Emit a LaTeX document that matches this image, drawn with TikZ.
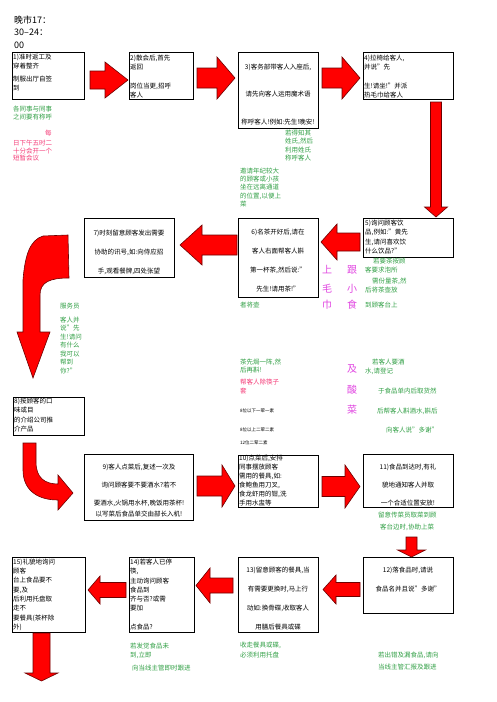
\documentclass[tikz,border=0pt]{standalone}
\usepackage{fontspec}
\setmainfont{Noto Sans CJK SC}
\definecolor{grn}{RGB}{50,160,70}
\definecolor{rose}{RGB}{245,60,120}
\definecolor{mag}{RGB}{225,70,225}
\definecolor{darkred}{RGB}{110,0,0}
\newcommand\BlkArrH[6]{\draw[barrow] (#1,#4-#5) -- (#2,#4-#5) -- (#2,#4-#6) -- (#3,#4) -- (#2,#4+#6) -- (#2,#4+#5) -- (#1,#4+#5) -- cycle;}
\newcommand\BlkArrV[6]{\draw[barrow] (#4-#5,#1) -- (#4-#5,#2) -- (#4-#6,#2) -- (#4,#3) -- (#4+#6,#2) -- (#4+#5,#2) -- (#4+#5,#1) -- cycle;}
\begin{document}
\begin{tikzpicture}[x=1pt,y=-1pt,
  boxst/.style={draw=black, line width=0.9pt, anchor=north west, inner sep=0, outer sep=0},
  txt/.style={inner sep=0, anchor=north west, align=left, font=\fontsize{6.5}{9}\selectfont},
  ctxt/.style={inner sep=0, anchor=north, align=center, font=\fontsize{6.5}{19}\selectfont},
  gtxt/.style={txt, text=grn},
  barrow/.style={fill=red, draw=darkred, line width=0.6pt, line join=miter},
  pk/.style={inner sep=0, text=mag, font=\fontsize{10}{10}\selectfont}
]
\useasboundingbox (0,0) rectangle (496,702);
\fill[white] (0,0) rectangle (496,702);

% title
\node[inner sep=0, anchor=north west, align=left, font=\fontsize{9}{12.5}\selectfont] (title) at (14,15.5) {晚市17：\\30--24：\\00};

% boxes
\node[boxst, minimum width=72pt, minimum height=47pt] (b1) at (12,52) {};
\node[boxst, minimum width=64pt, minimum height=47pt] (b2) at (129,52) {};
\node[boxst, minimum width=80pt, minimum height=76pt] (b3) at (238,52) {};
\node[boxst, minimum width=90pt, minimum height=47pt] (b4) at (363,52) {};
\node[boxst, minimum width=90pt, minimum height=39pt] (b5) at (363,218) {};
\node[boxst, minimum width=80pt, minimum height=79pt] (b6) at (238,218) {};
\node[boxst, minimum width=90pt, minimum height=59pt] (b7) at (84,218) {};
\node[boxst, minimum width=71pt, minimum height=38pt] (b8) at (13,397) {};
\node[boxst, minimum width=109pt, minimum height=66pt] (b9) at (84,454) {};
\node[boxst, minimum width=80pt, minimum height=52pt] (b10) at (238,455) {};
\node[boxst, minimum width=90pt, minimum height=53pt] (b11) at (363,454) {};
\node[boxst, minimum width=90pt, minimum height=56pt] (b12) at (363,557) {};
\node[boxst, minimum width=80pt, minimum height=75pt] (b13) at (238,557) {};
\node[boxst, minimum width=65pt, minimum height=75pt] (b14) at (129,557) {};
\node[boxst, minimum width=73pt, minimum height=75pt] (b15) at (12,557) {};

% block arrows
\BlkArrH{90}{105}{128}{80}{9}{18}
\BlkArrH{197}{217}{235}{78}{10}{21}
\BlkArrH{322}{342}{360}{78}{10}{21}
\BlkArrV{102}{207}{217}{436}{5.5}{11.5}
\BlkArrH{360}{337}{321}{242}{9}{18}
\BlkArrH{237}{202}{180}{245}{10}{20}
\draw[barrow] (68,235) -- (69,278) .. controls (50,278) and (40,282) .. (40,295) -- (40,332) -- (50,332) -- (33,378) -- (17,332) -- (23,332) -- (23,280) .. controls (25,255) and (30,240) .. (43,236) -- cycle;
\draw[barrow] (23,443) -- (36,443) -- (36,462) .. controls (36,478) and (45,484) .. (58,484) -- (58,475) -- (73,493) -- (58,510) -- (58,500) .. controls (35,500) and (23,488) .. (23,470) -- cycle;
\BlkArrH{197}{222}{235}{486}{10}{21}
\BlkArrH{322}{345}{360}{486.5}{10}{21.5}
\BlkArrV{537}{550}{557}{411.5}{5.5}{14}
\BlkArrH{360}{336}{323}{589.5}{7}{14.5}
\BlkArrH{233}{210}{196}{585.5}{7.5}{17.5}
\BlkArrH{126}{100}{88}{590}{7.5}{14}
\BlkArrV{633}{673}{681}{41.5}{8.5}{16.5}

% box texts
\node[txt] (t1) at (13,57-3.3) {1)准时返工及\\穿着整齐\\[4pt]制服出厅自签\\到};
\node[txt] (t2) at (130,58-3.3) {2)散会后,首先\\返回\\[10pt]岗位当更,招呼\\客人};
\node[ctxt, font=\fontsize{6.5}{27.5}\selectfont] (t3) at (278,67-3.3) {3)客务部带客人入座后,\\请先向客人运用魔术语\\称呼客人!例如:先生!晚安!};
\node[txt] (t4) at (364,58-3.3) {4)拉椅给客人,\\并说"先\\[10pt]生!请坐!"并派\\热毛巾给客人};
\node[txt, font=\fontsize{6.5}{9.3}\selectfont] (t5) at (365,223-3.3) {5)询问顾客饮\\品,例如:"黄先\\生,请问喜欢饮\\什么饮品?"};
\node[ctxt] (t6) at (278,232-3.3) {6)名茶开好后,请在\\客人右面帮客人斟\\第一杯茶,然后说:"\\先生!请用茶!"};
\node[ctxt] (t7) at (129,233-3.3) {7)时刻留意顾客发出需要\\协助的讯号,如:向侍应招\\手,观看餐牌,四处张望};
\node[txt, font=\fontsize{6.5}{9.3}\selectfont] (t8) at (14,401-3.3) {8)按顾客的口\\味或目\\的介绍公司推\\介产品};
\node[ctxt, font=\fontsize{6.5}{18}\selectfont] (t9) at (139,467-3.3) {9)客人点菜后,复述一次及\\询问顾客要不要酒水?若不\\要酒水,火锅用水杯,晚饭用茶杯!\\[-7pt]以写菜后食品单交由部长入机!};
\node[txt] (t10) at (239,458-3.3) {10)点菜后,安排\\同事摆放顾客\\需用的餐具,如:\\食鲍鱼用刀叉,\\食龙虾用的钳,洗\\手用水盅等};
\node[ctxt, font=\fontsize{6.5}{18}\selectfont] (t11) at (408,467-3.3) {11)食品到达时,有礼\\貌地通知客人并取\\一个合适位置安放!};
\node[ctxt] (t12) at (408,570-3.3) {12)落食品时,请说\\食品名并且说"多谢"};
\node[ctxt] (t13) at (278,570-3.3) {13)留意顾客的餐具,当\\有需要更换时,马上行\\动如:换骨碟,收取客人\\用膳后餐具或碟};
\node[txt, font=\fontsize{6.5}{9.3}\selectfont] (t14) at (130,562-3.3) {14)若客人已停\\筷,\\主动询问顾客\\食品到\\齐与否?或需\\要加\\[9.3pt]点食品?};
\node[txt, font=\fontsize{6.5}{9.3}\selectfont] (t15) at (13,562-3.3) {15)礼貌地询问\\顾客\\台上食品要不\\要,及\\后利用托盘取\\走不\\要餐具(茶杯除\\外)};

% green / pink notes
\node[gtxt, font=\fontsize{6.5}{8}\selectfont] (g1) at (13,109-3.3) {各同事与同事\\之间要有称呼};
\node[txt, text=rose] (p1a) at (45,133-3.3) {每};
\node[txt, text=rose, font=\fontsize{6.5}{7.7}\selectfont] (p1b) at (13,143-3.3) {日下午五时二\\十分会开一个\\短暂会议};
\node[gtxt, font=\fontsize{6.5}{8.5}\selectfont] (g3a) at (285,133-3.3) {若得知其\\姓氏,然后\\利用姓氏\\称呼客人};
\node[gtxt, font=\fontsize{6.5}{8.3}\selectfont] (g3b) at (240,171-3.3) {邀请年纪较大\\的顾客或小孩\\坐在远离通道\\的位置,以便上\\菜};
\node[gtxt] (g5) at (365,261-3.3) {\hspace*{8pt}若要茶按顾\\客要求泡所\\[2pt]\hspace*{7pt}需份量茶,然\\后将茶壶放\\[6pt]到顾客台上};
\node[gtxt] (g6a) at (240,305-3.3) {者将壶};
\node[gtxt, font=\fontsize{6.5}{8.5}\selectfont] (g6b) at (240,362-3.3) {茶先焗一阵,然\\后再斟!};
\node[txt, text=rose] (p6c) at (240,382-3.3) {帮客人除筷子\\套};
\node[txt, font=\fontsize{4.5}{19}\selectfont] (s6) at (240,411-2.3) {8位以下一荤一素\\8位以上二荤二素\\[-6pt]12位二荤二素};
\node[gtxt] (g10a) at (365,362-3.3) {\hspace*{7pt}若客人要酒\\水,请登记};
\node[gtxt, font=\fontsize{6.5}{20}\selectfont] (g10b) at (377,391-3.3) {\hspace*{1pt}于食品单内后取货然\\后帮客人斟酒水,斟后\\[-1pt]\hspace*{9pt}向客人说"多谢"};
\node[gtxt, font=\fontsize{6.5}{12}\selectfont] (g11) at (378,515-3.3) {留意传菜员取菜到顾\\\hspace*{2pt}客台边时,协助上菜};
\node[gtxt] (g7a) at (60,306-3.3) {服务员};
\node[gtxt, font=\fontsize{6.5}{8.5}\selectfont] (g7b) at (60,320-3.3) {客人并\\说"先\\生!请问\\有什么\\我可以\\帮到\\你?"};
\node[gtxt, font=\fontsize{6.5}{10}\selectfont] (g13) at (240,645-3.3) {收走餐具或碟,\\必须利用托盘};
\node[gtxt, font=\fontsize{6.5}{12.5}\selectfont] (g12) at (378,655-3.3) {若出错及漏食品,请向\\当线主管汇报及跟进};
\node[gtxt] (g14a) at (130,646-3.3) {若发觉食品未\\到,立即};
\node[gtxt] (g14b) at (132,668-3.3) {向当线主管即时跟进};

% pink vertical labels
\node[pk] (m1) at (327,270) {上};
\node[pk] (m2) at (327,289) {毛};
\node[pk] (m3) at (327,305) {巾};
\node[pk] (n1) at (352,270) {跟};
\node[pk] (n2) at (352,289) {小};
\node[pk] (n3) at (352,305) {食};
\node[pk] (n4) at (352,369) {及};
\node[pk] (n5) at (352,390) {酸};
\node[pk] (n6) at (352,410) {菜};
\end{tikzpicture}
\end{document}
